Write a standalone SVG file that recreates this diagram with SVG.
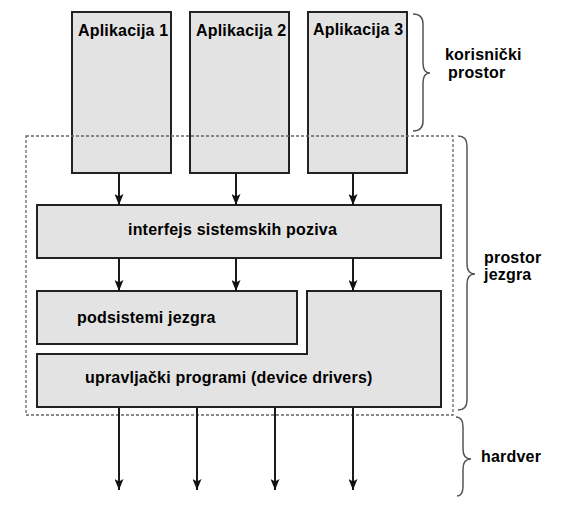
<svg xmlns="http://www.w3.org/2000/svg" width="579" height="508" viewBox="0 0 579 508">
<style>
.box{fill:#e3e3e3;stroke:#222;stroke-width:2}
.t{font-family:"Liberation Sans",Arial,sans-serif;font-weight:bold;font-size:16px;letter-spacing:0.2px;fill:#000}
.arr{stroke:#1a1a1a;stroke-width:2;fill:none;marker-end:url(#ah)}
.brace{fill:none;stroke:#555;stroke-width:1.5}
.dash{fill:none;stroke:#666;stroke-width:1.3;stroke-dasharray:3,2}
</style>
<defs>
<marker id="ah" markerUnits="userSpaceOnUse" markerWidth="11" markerHeight="9" viewBox="0 0 11 9" refX="11" refY="4.5" orient="auto">
<path d="M0,0 L11,4.5 L0,9 L2.5,4.5 Z" fill="#111"/>
</marker>
</defs>
<rect width="579" height="508" fill="#fff"/>
<g id="app1"><rect class="box" x="72" y="12" width="99" height="161"/><text class="t" x="78" y="36">Aplikacija 1</text></g>
<g id="app2"><rect class="box" x="190" y="12" width="99" height="161"/><text class="t" x="196" y="36">Aplikacija 2</text></g>
<g id="app3"><rect class="box" x="308" y="12" width="99" height="161"/><text class="t" x="313" y="35">Aplikacija 3</text></g>
<g id="kernel-space"><rect class="dash" x="26" y="136" width="427" height="279"/></g>
<g id="syscall"><rect class="box" x="37" y="205" width="404" height="53"/><text class="t" x="128" y="235">interfejs sistemskih poziva</text></g>
<g id="subsystems"><rect class="box" x="37" y="291" width="260" height="53"/><text class="t" x="77" y="323">podsistemi jezgra</text></g>
<g id="drivers"><path class="box" d="M307,291 H441 V407 H37 V354 H307 Z"/><text class="t" x="85" y="383">upravljački programi (device drivers)</text></g>
<g id="connectors">
<line class="arr" x1="119" y1="173" x2="119" y2="205"/>
<line class="arr" x1="236" y1="173" x2="236" y2="205"/>
<line class="arr" x1="353" y1="173" x2="353" y2="205"/>
<line class="arr" x1="119" y1="258" x2="119" y2="291"/>
<line class="arr" x1="236" y1="258" x2="236" y2="291"/>
<line class="arr" x1="353" y1="258" x2="353" y2="291"/>
<line class="arr" x1="119" y1="407" x2="119" y2="490"/>
<line class="arr" x1="197" y1="407" x2="197" y2="490"/>
<line class="arr" x1="275" y1="407" x2="275" y2="490"/>
<line class="arr" x1="353" y1="407" x2="353" y2="490"/>
</g>
<g id="user-space-label">
<path class="brace" d="M413,14 Q423,14 423,24 V63 Q423,73 430,73 Q423,73 423,83 V121 Q423,131 413,131"/>
<text class="t" x="445" y="60">korisnički</text><text class="t" x="448" y="78">prostor</text>
</g>
<g id="kernel-space-label">
<path class="brace" d="M458,136 Q467,136 467,146 V264 Q467,274 475,274 Q467,274 467,284 V400 Q467,410 458,410"/>
<text class="t" x="484" y="263">prostor</text><text class="t" x="484" y="280">jezgra</text>
</g>
<g id="hardware-label">
<path class="brace" d="M456,417 Q463,417 463,427 V449 Q463,459 471,459 Q463,459 463,469 V486 Q463,496 457,496"/>
<text class="t" x="481" y="462">hardver</text>
</g>
</svg>
